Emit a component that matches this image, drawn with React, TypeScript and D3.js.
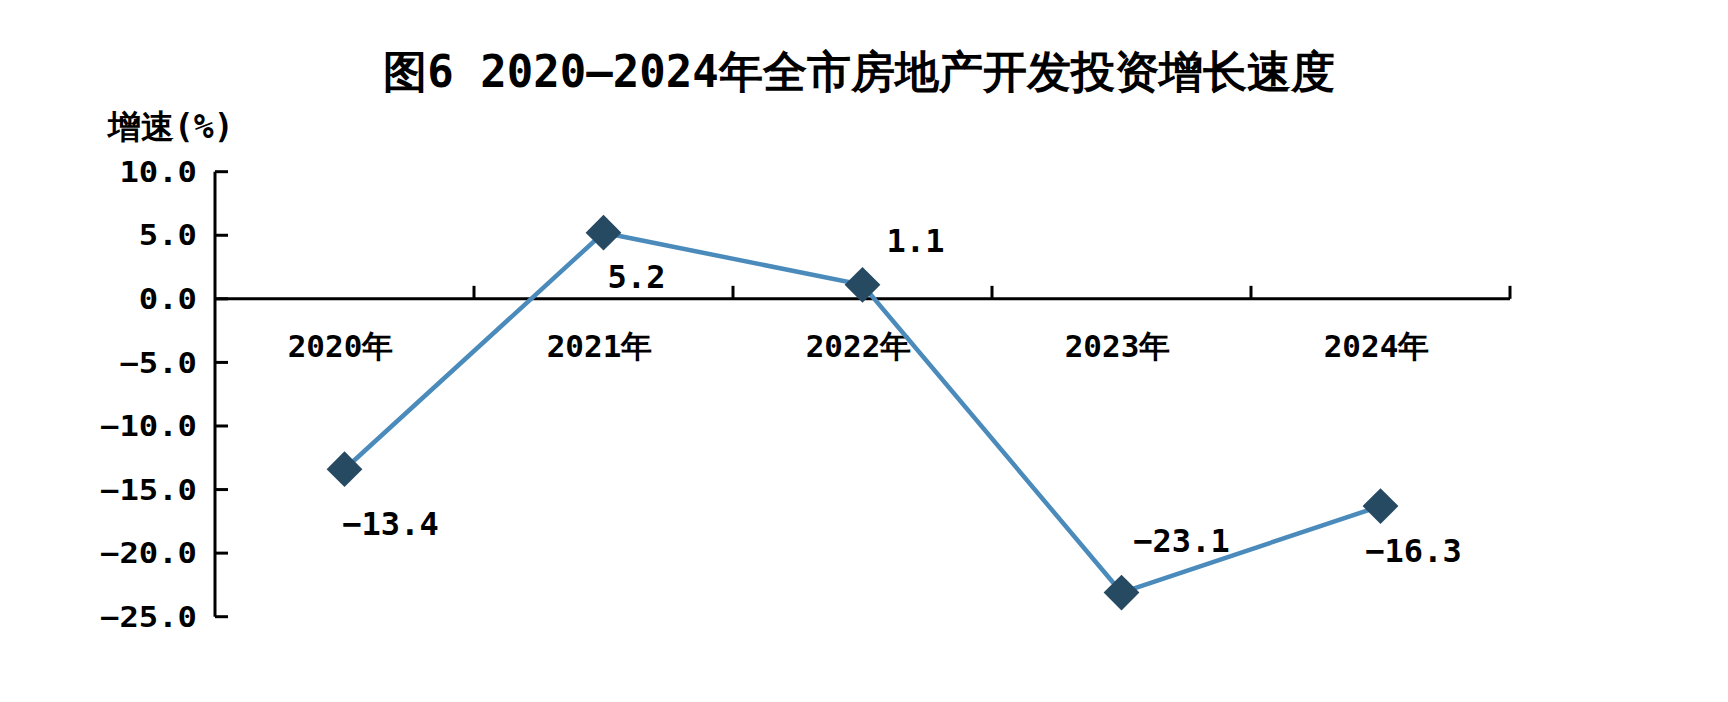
import React from "react";
import * as d3 from "d3";

const categories = ["2020年", "2021年", "2022年", "2023年", "2024年"];
const growth = [-13.4, 5.2, 1.1, -23.1, -16.3];
const yTicks = [10, 5, 0, -5, -10, -15, -20, -25];
const yTickLabels = ["10.0", "5.0", "0.0", "−5.0", "−10.0", "−15.0", "−20.0", "−25.0"];
const chartTitle = "图6 2020—2024年全市房地产开发投资增长速度";
const yAxisTitle = "增速(%)";

// label placement (dx, dy baseline) relative to each point
const labelOffsets: [number, number][] = [
  [46, 66],
  [33, 55],
  [53, -33],
  [60, -41],
  [33, 56],
];

const W = 1728;
const H = 702;
const X0 = 215;
const X1 = 1510;
const YT = 171.7;
const YB = 616.7;
const FONT = "'DejaVu Sans Mono', monospace";
const LINE = "#4a8bbb";
const MARK = "#264a62";

const fmt = (v: number) => (v < 0 ? "−" + Math.abs(v).toFixed(1) : v.toFixed(1));

export default function App() {
  const x = d3.scaleBand<string>().domain(categories).range([X0, X1]).padding(0);
  const y = d3.scaleLinear().domain([-25, 10]).range([YB, YT]);
  const cx = (c: string) => (x(c) as number) + x.bandwidth() / 2;
  const pts = categories.map((c, i) => [cx(c), y(growth[i])] as [number, number]);
  const line = d3.line()(pts) as string;
  const diamond = d3.symbol().type(d3.symbolSquare).size(640)() as string;
  const boundaries = categories.map((c) => (x(c) as number) + x.bandwidth());

  return (
    <div style={{ position: "absolute", left: 0, top: 0 }}>
      <svg width={W} height={H} style={{ display: "block", background: "#fff" }}>
        <text
          x={859}
          y={87}
          textAnchor="middle"
          fontFamily={FONT}
          fontWeight="bold"
          fontSize={44}
          fill="#000"
        >
          {chartTitle}
        </text>
        <text x={108} y={138} fontFamily={FONT} fontWeight="bold" fontSize={33} fill="#000">
          {yAxisTitle}
        </text>

        {/* y axis */}
        <line x1={X0} x2={X0} y1={y(10)} y2={y(-25)} stroke="#000" strokeWidth={3} />
        {yTicks.map((t, i) => (
          <g key={t}>
            <line x1={X0} x2={X0 + 13} y1={y(t)} y2={y(t)} stroke="#000" strokeWidth={3} />
            <text
              transform={`translate(197,${y(t)}) scale(1.15,1)`}
              dy="0.36em"
              textAnchor="end"
              fontFamily={FONT}
              fontWeight="bold"
              fontSize={28}
              fill="#000"
            >
              {yTickLabels[i]}
            </text>
          </g>
        ))}

        {/* x axis at zero */}
        <line x1={X0} x2={X1} y1={y(0)} y2={y(0)} stroke="#000" strokeWidth={3} />
        {boundaries.map((b, i) => (
          <line key={i} x1={b} x2={b} y1={y(0)} y2={y(0) - 13} stroke="#000" strokeWidth={3} />
        ))}
        {categories.map((c) => (
          <text
            key={c}
            x={cx(c) - 4}
            y={357}
            textAnchor="middle"
            fontFamily={FONT}
            fontWeight="bold"
            fontSize={31}
            fill="#000"
          >
            {c}
          </text>
        ))}

        {/* series */}
        <path d={line} fill="none" stroke={LINE} strokeWidth={4.5} />
        {pts.map((p, i) => (
          <path
            key={i}
            d={diamond}
            transform={`translate(${p[0]},${p[1]}) rotate(45)`}
            fill={MARK}
          />
        ))}
        {pts.map((p, i) => (
          <text
            key={"l" + i}
            x={p[0] + labelOffsets[i][0]}
            y={p[1] + labelOffsets[i][1]}
            textAnchor="middle"
            fontFamily={FONT}
            fontWeight="bold"
            fontSize={32}
            fill="#000"
          >
            {fmt(growth[i])}
          </text>
        ))}
      </svg>
    </div>
  );
}
